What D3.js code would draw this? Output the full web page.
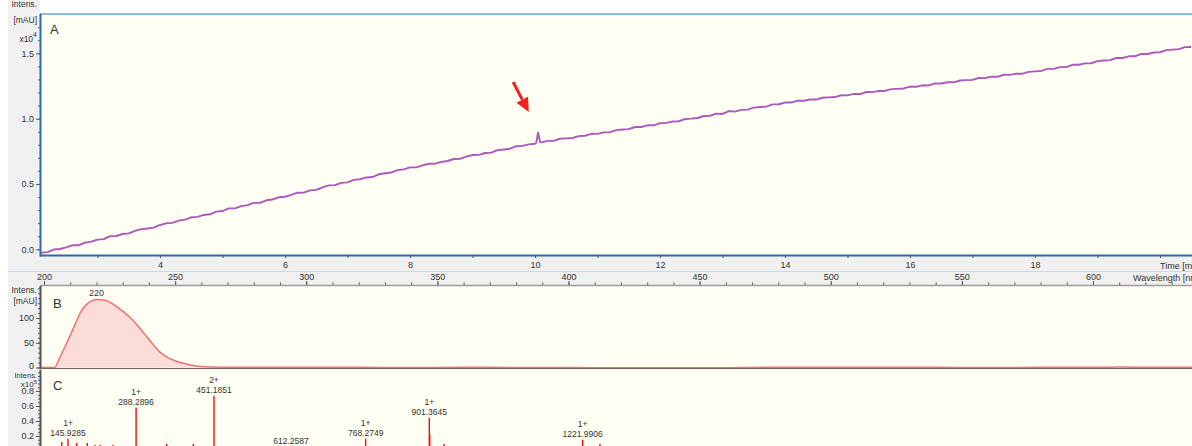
<!DOCTYPE html>
<html><head><meta charset="utf-8">
<script src="https://cdn.jsdelivr.net/npm/d3@7"></script>
<style>
html,body{margin:0;padding:0;background:#fff;overflow:hidden}
svg{display:block}
text{font-family:"Liberation Sans",Arial,sans-serif;fill:#333}
</style></head><body>
<svg id="chart" width="1192" height="446"></svg>
<script>
// ---------- A: UV chromatogram (x10^4 mAU vs. min) ----------
const chromStart = 2.1, chromStep = 0.1;
const chromValues = [
-0.026,-0.022,-0.002,0.002,0.015,0.031,0.031,0.051,0.059,0.074,
0.078,0.101,0.102,0.117,0.122,0.141,0.154,0.159,0.166,0.186,
0.199,0.202,0.219,0.227,0.245,0.248,0.263,0.268,0.288,0.293,
0.313,0.313,0.330,0.338,0.355,0.355,0.375,0.381,0.398,0.402,
0.417,0.433,0.434,0.451,0.455,0.474,0.489,0.491,0.508,0.512,
0.531,0.536,0.550,0.553,0.574,0.582,0.588,0.606,0.612,0.627,
0.627,0.642,0.655,0.655,0.669,0.676,0.691,0.692,0.709,0.722,
0.723,0.737,0.740,0.759,0.764,0.770,0.789,0.791,0.803,0.808,
0.818,0.830,0.830,0.846,0.849,0.852,0.866,0.869,0.884,0.883,
0.895,0.896,0.912,0.917,0.920,0.936,0.936,0.949,0.949,0.966,
0.967,0.978,0.980,0.997,1.000,1.005,1.020,1.022,1.038,1.036,
1.058,1.054,1.067,1.069,1.084,1.089,1.092,1.109,1.110,1.123,
1.123,1.138,1.137,1.146,1.146,1.160,1.163,1.165,1.179,1.178,
1.189,1.188,1.204,1.203,1.212,1.212,1.226,1.228,1.231,1.245,
1.244,1.255,1.254,1.270,1.269,1.278,1.278,1.292,1.295,1.297,
1.311,1.310,1.321,1.320,1.336,1.335,1.344,1.344,1.358,1.362,
1.365,1.381,1.381,1.394,1.394,1.412,1.412,1.423,1.424,1.440,
1.445,1.448,1.464,1.464,1.477,1.477,1.495,1.495,1.506,1.508,
1.524,1.528,1.532,1.547,1.548];
// small eluting peak near 10 min
const spikeTime  = [10.02, 10.05, 10.08];
const spikeValue = [0.815, 0.895, 0.820];
const timeTicks = [3,4,5,6,7,8,9,10,11,12,13,14,15,16,17,18,19,20];
const timeLabels = [4,6,8,10,12,14,16,18];

// ---------- B: UV spectrum (mAU vs. nm) ----------
const waveNm = [198,200,202,204,206,208,210,212,214,216,218,220,222,224,226,228,230,232,234,236,238,240,
  242,244,246,248,250,252,254,256,258,260,264,270,280,300,320,340,360,380,400,420,430,440,460,470,480,500,
  520,540,560,580,600,610,620,630,640];
const waveAbs = [0,0,0,0,20,42,65,89,112,126,134,137.5,137,134.5,129,122,114,105,95,83,70,57,
  44,32,24,18,13.5,10,7.5,5,3,1.8,0.8,0.4,0.3,0.4,0.3,0.2,0.3,0.2,0.1,-0.6,-0.6,-0.5,-0.4,0.2,0.3,0.3,
  0.4,0.3,0.2,0.3,0.5,0.8,0.3,0.6,0.4];
const waveMajor = [200,250,300,350,400,450,500,550,600];

// ---------- C: mass spectrum (x10^5 counts vs. m/z) ----------
const msMz  = [132.8,145.9285,164.1,186.3,202.4,212.8,240.0,288.2896,352.3,407.9,451.1851,612.2587,
  768.2749,901.3645,902.37,932.1,1221.9906,1258.2];
const msInt = [0.12,0.164,0.107,0.107,0.08,0.08,0.08,0.577,0.093,0.093,0.737,0.053,
  0.164,0.444,0.22,0.093,0.15,0.093];
const labelMz     = [145.9285,288.2896,451.1851,612.2587,768.2749,901.3645,1221.9906];
const labelCharge = ["1+","1+","2+","","1+","1+","1+"];

// ---------- layout ----------
const svg = d3.select("#chart");
const L = 40, R = 1192;
const A = {top: 14, bottom: 255.5};
const B = {top: 286, bottom: 368};
const C = {top: 369.5, bottom: 446};

const xTime = d3.scaleLinear().domain([4, 18]).range([160, 1035]);
const yA    = d3.scaleLinear().domain([0, 1.5]).range([249.3, 53.3]);
const xWave = d3.scaleLinear().domain([200, 600]).range([44, 1093]);
const yB    = d3.scaleLinear().domain([0, 100]).range([367.5, 318]);
const xMz   = d3.scaleLinear().domain([451.1851, 901.3645]).range([214, 429.3]);
const yC    = d3.scaleLinear().domain([0, 0.8]).range([451, 391]);

const cream = "#fffff4", gray = "#f0f0f0";
const FONT = "Liberation Sans, Arial, sans-serif";

// backgrounds
svg.append("rect").attr("x",0).attr("y",0).attr("width",1192).attr("height",446).attr("fill","#fff");
svg.append("rect").attr("x",8).attr("y",0).attr("width",L-8).attr("height",446).attr("fill",gray);
svg.append("rect").attr("x",8).attr("y",A.bottom).attr("width",R-8).attr("height",B.top-A.bottom).attr("fill",gray);
[A,B,C].forEach(p => svg.append("rect").attr("x",L).attr("y",p.top)
  .attr("width",R-L).attr("height",p.bottom-p.top).attr("fill",cream));

const defs = svg.append("defs");
[["clipA",A],["clipB",B],["clipC",C]].forEach(([id,p]) => defs.append("clipPath").attr("id",id)
  .append("rect").attr("x",L+1).attr("y",p.top).attr("width",R-L).attr("height",p.bottom-p.top));
// axis groups are translated by L, so this clip box is in their local coordinates
defs.append("clipPath").attr("id","clipBAxis")
  .append("rect").attr("x",-L).attr("y",B.top).attr("width",L+2).attr("height",B.bottom-B.top+1.5);

// helper: ticks on a left axis
function leftAxis(scale, major, minor, fmt, top, bottom, color, clip) {
  const g = svg.append("g").attr("transform",`translate(${L},0)`);
  if (clip) g.attr("clip-path", `url(#${clip})`);
  const gm = g.append("g").call(d3.axisLeft(scale).tickValues(minor).tickSize(2).tickFormat(""));
  const gM = g.append("g").call(d3.axisLeft(scale).tickValues(major).tickSize(4).tickPadding(2).tickFormat(fmt));
  [gm,gM].forEach(a => { a.select(".domain").remove();
    a.selectAll("line").attr("stroke",color);
    a.selectAll("text").attr("font-size",9).attr("fill","#333").attr("font-family",FONT); });
  g.append("line").attr("x1",0.5).attr("x2",0.5).attr("y1",top).attr("y2",bottom)
   .attr("stroke",color).attr("stroke-width",2);
  return {g, gM};
}

// ===== Panel A =====
const chrom = chromValues.map((v,i) => ({t: chromStart + i*chromStep, v}));
spikeTime.forEach((t,i) => chrom.push({t, v: spikeValue[i]}));
chrom.sort((a,b) => a.t - b.t);

svg.append("g").attr("clip-path","url(#clipA)")
  .append("path").datum(chrom)
  .attr("d", d3.line().x(d => xTime(d.t)).y(d => yA(d.v)))
  .attr("fill","none").attr("stroke","#ad58bd").attr("stroke-width",1.9).attr("stroke-linejoin","round");

svg.append("line").attr("x1",L).attr("x2",R).attr("y1",A.top).attr("y2",A.top)
  .attr("stroke","#6aa3d8").attr("stroke-width",1.5);
leftAxis(yA, [0,0.5,1,1.5], d3.range(0,18).map(i => i/10), d3.format(".1f"), A.top, A.bottom+1, "#2f6aa3");
svg.append("line").attr("x1",L).attr("x2",R).attr("y1",A.bottom).attr("y2",A.bottom)
  .attr("stroke","#2f6aa3").attr("stroke-width",2);

// time axis
const gt = svg.append("g").attr("transform",`translate(0,${A.bottom})`)
  .call(d3.axisBottom(xTime).tickValues(timeTicks).tickSize(2.5).tickPadding(4)
    .tickFormat(d => timeLabels.includes(d) ? d : ""));
gt.select(".domain").remove();
gt.selectAll("line").attr("stroke","#555");
gt.selectAll("text").attr("font-size",9).attr("fill","#333").attr("font-family",FONT);
svg.append("text").attr("x",1160).attr("y",268.5).attr("font-size",9).text("Time [min]");

// separator between the two x axes
svg.append("line").attr("x1",8).attr("x2",R).attr("y1",271.5).attr("y2",271.5)
  .attr("stroke","#c9d9ea").attr("stroke-width",1);

// wavelength axis
const gw = svg.append("g").attr("transform","translate(0,285)");
const gwm = gw.append("g").call(d3.axisTop(xWave).tickValues(d3.range(200,641,10)).tickSize(2.5).tickFormat(""));
const gwM = gw.append("g").call(d3.axisTop(xWave).tickValues(waveMajor).tickSize(4).tickPadding(1));
[gwm,gwM].forEach(a => { a.select(".domain").remove(); a.selectAll("line").attr("stroke","#555");
  a.selectAll("text").attr("font-size",9).attr("fill","#333").attr("font-family",FONT); });
svg.append("line").attr("x1",L).attr("x2",R).attr("y1",285.5).attr("y2",285.5)
  .attr("stroke","#9a9a9a").attr("stroke-width",1.5);
svg.append("text").attr("x",1133).attr("y",280.5).attr("font-size",9).text("Wavelength [nm]");

// ===== Panel B =====
const spec = waveNm.map((w,i) => ({w, v: waveAbs[i]}));
const gB = svg.append("g").attr("clip-path","url(#clipB)");
gB.append("path").datum(spec)
  .attr("d", d3.area().x(d => xWave(d.w)).y0(yB(0)).y1(d => yB(d.v)).curve(d3.curveMonotoneX))
  .attr("fill","#fcdcd7");
gB.append("path").datum(spec)
  .attr("d", d3.line().x(d => xWave(d.w)).y(d => yB(d.v)).curve(d3.curveMonotoneX))
  .attr("fill","none").attr("stroke","#f0716c").attr("stroke-width",1.5);
const peakB = spec.reduce((a,b) => b.v > a.v ? b : a);
svg.append("text").attr("x",xWave(220)).attr("y",yB(peakB.v)-3).attr("text-anchor","middle")
  .attr("font-size",9).text("220");

const axB = leftAxis(yB, [0,50,100], d3.range(0,161,10), d3.format("d"), B.top, B.bottom, "#555", "clipBAxis");
// the zero label sits right on the panel edge; lift it a little
axB.gM.selectAll(".tick").filter(d => d === 0).select("text").attr("dy","0.1em");
svg.append("line").attr("x1",L).attr("x2",R).attr("y1",B.bottom+0.5).attr("y2",B.bottom+0.5)
  .attr("stroke","#7d6060").attr("stroke-width",1.2);

// ===== Panel C =====
const gC = svg.append("g").attr("clip-path","url(#clipC)");
gC.selectAll("line.stick").data(msMz.map((m,i) => ({m, v: msInt[i]}))).join("line")
  .attr("class","stick")
  .attr("x1",d => xMz(d.m)).attr("x2",d => xMz(d.m))
  .attr("y1",yC(0)).attr("y2",d => yC(d.v))
  .attr("stroke","#f20d0d").attr("stroke-width",1.4);

labelMz.forEach((m,i) => {
  const v = msInt[msMz.indexOf(m)];
  const x = xMz(m), y = yC(v);
  svg.append("text").attr("x",x).attr("y",y-3).attr("text-anchor","middle").attr("font-size",8.5)
    .text(d3.format(".4f")(m));
  if (labelCharge[i]) svg.append("text").attr("x",x).attr("y",y-12.5).attr("text-anchor","middle")
    .attr("font-size",8.5).text(labelCharge[i]);
});

leftAxis(yC, [0.2,0.4,0.6,0.8], d3.range(0,22).map(i => i*0.05), d3.format(".1f"), C.top, C.bottom, "#555");

// ===== axis titles and panel letters =====
function title(lines, right, size) {
  lines.forEach(([txt,y]) => svg.append("text").attr("x",right).attr("y",y)
    .attr("text-anchor","end").attr("font-size",size || 8.5).text(txt));
}
title([["Intens.",7],["[mAU]",23]], 37);
const xa = svg.append("text").attr("x",37).attr("y",42).attr("text-anchor","end").attr("font-size",8.5);
xa.append("tspan").text("x10"); xa.append("tspan").attr("dy",-5).attr("font-size",7).text("4");
title([["Intens.",293],["[mAU]",304]], 37);
title([["Intens.",378]], 37, 7.5);
const xc = svg.append("text").attr("x",37).attr("y",386.5).attr("text-anchor","end").attr("font-size",8);
xc.append("tspan").text("x10"); xc.append("tspan").attr("dy",-3).attr("font-size",6).text("5");

svg.append("text").attr("x",50).attr("y",34).attr("font-size",13).attr("fill","#222").text("A");
svg.append("text").attr("x",53).attr("y",308).attr("font-size",13).attr("fill","#222").text("B");
svg.append("text").attr("x",53).attr("y",390).attr("font-size",13).attr("fill","#222").text("C");

// ===== red arrow pointing at the 10 min peak =====
const tail = [xTime(9.65), yA(1.28)], tip = [xTime(9.9), yA(1.05)];
const dx = tip[0]-tail[0], dy = tip[1]-tail[1], len = Math.hypot(dx,dy);
const ux = dx/len, uy = dy/len, hl = 14, hw = 6.5;
const base = [tip[0]-ux*hl, tip[1]-uy*hl];
svg.append("line").attr("x1",tail[0]).attr("y1",tail[1]).attr("x2",base[0]).attr("y2",base[1])
  .attr("stroke","#f2201a").attr("stroke-width",3);
svg.append("polygon").attr("fill","#f2201a")
  .attr("points",[tip,[base[0]-uy*hw, base[1]+ux*hw],[base[0]+uy*hw, base[1]-ux*hw]].map(p=>p.join(",")).join(" "));
</script>
</body></html>
